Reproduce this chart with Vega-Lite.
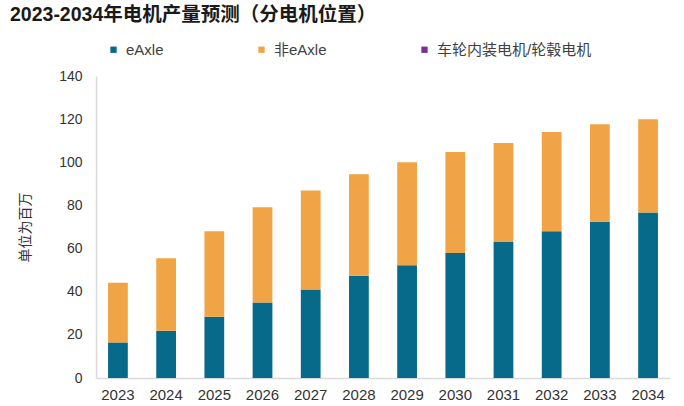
{
  "$schema": "https://vega.github.io/schema/vega-lite/v6.json",
  "width": 574,
  "height": 302,
  "autosize": {"type": "none"},
  "padding": {"left": 96, "top": 76, "right": 14, "bottom": 28},
  "background": "white",
  "config": {
    "view": {"stroke": null},
    "font": "Liberation Sans, Noto Sans CJK SC, sans-serif"
  },
  "title": {
    "text": "2023-2034年电机产量预测（分电机位置）",
    "anchor": "start",
    "frame": "group",
    "dx": -86,
    "offset": 17,
    "fontSize": 19.5,
    "fontWeight": "bold",
    "color": "#1a1a1a",
    "font": "Liberation Sans, Noto Sans CJK SC, sans-serif"
  },
  "data": {
    "values": [
      {"year": "2023", "type": "eAxle", "value": 16.5},
      {"year": "2024", "type": "eAxle", "value": 21.9},
      {"year": "2025", "type": "eAxle", "value": 28.4},
      {"year": "2026", "type": "eAxle", "value": 35.0},
      {"year": "2027", "type": "eAxle", "value": 41.0},
      {"year": "2028", "type": "eAxle", "value": 47.4},
      {"year": "2029", "type": "eAxle", "value": 52.3},
      {"year": "2030", "type": "eAxle", "value": 57.9},
      {"year": "2031", "type": "eAxle", "value": 63.0},
      {"year": "2032", "type": "eAxle", "value": 68.0},
      {"year": "2033", "type": "eAxle", "value": 72.4},
      {"year": "2034", "type": "eAxle", "value": 76.7},
      {"year": "2023", "type": "非eAxle", "value": 27.6},
      {"year": "2024", "type": "非eAxle", "value": 33.6},
      {"year": "2025", "type": "非eAxle", "value": 39.6},
      {"year": "2026", "type": "非eAxle", "value": 44.2},
      {"year": "2027", "type": "非eAxle", "value": 45.9},
      {"year": "2028", "type": "非eAxle", "value": 47.0},
      {"year": "2029", "type": "非eAxle", "value": 47.7},
      {"year": "2030", "type": "非eAxle", "value": 46.9},
      {"year": "2031", "type": "非eAxle", "value": 45.9},
      {"year": "2032", "type": "非eAxle", "value": 46.0},
      {"year": "2033", "type": "非eAxle", "value": 45.2},
      {"year": "2034", "type": "非eAxle", "value": 43.3},
      {"year": "2023", "type": "车轮内装电机/轮毂电机", "value": 0},
      {"year": "2024", "type": "车轮内装电机/轮毂电机", "value": 0},
      {"year": "2025", "type": "车轮内装电机/轮毂电机", "value": 0},
      {"year": "2026", "type": "车轮内装电机/轮毂电机", "value": 0},
      {"year": "2027", "type": "车轮内装电机/轮毂电机", "value": 0},
      {"year": "2028", "type": "车轮内装电机/轮毂电机", "value": 0},
      {"year": "2029", "type": "车轮内装电机/轮毂电机", "value": 0},
      {"year": "2030", "type": "车轮内装电机/轮毂电机", "value": 0},
      {"year": "2031", "type": "车轮内装电机/轮毂电机", "value": 0},
      {"year": "2032", "type": "车轮内装电机/轮毂电机", "value": 0},
      {"year": "2033", "type": "车轮内装电机/轮毂电机", "value": 0},
      {"year": "2034", "type": "车轮内装电机/轮毂电机", "value": 0}
    ]
  },
  "mark": {"type": "bar"},
  "encoding": {
    "x": {
      "field": "year",
      "type": "ordinal",
      "scale": {"paddingInner": 0.59, "paddingOuter": 0.25},
      "axis": {
        "title": null,
        "labelAngle": 0,
        "labelFontSize": 15,
        "labelColor": "#333333",
        "labelPadding": 9,
        "ticks": false,
        "domainColor": "#d9d9d9",
        "domainWidth": 1.5
      }
    },
    "y": {
      "field": "value",
      "type": "quantitative",
      "stack": "zero",
      "scale": {"domain": [0, 140], "nice": false},
      "axis": {
        "title": "单位为百万",
        "titleFontSize": 14,
        "titleFontWeight": "normal",
        "titleColor": "#333333",
        "titlePadding": 26,
        "values": [0, 20, 40, 60, 80, 100, 120, 140],
        "labelFontSize": 14,
        "labelColor": "#333333",
        "labelPadding": 14,
        "ticks": false,
        "grid": false,
        "domainColor": "#d9d9d9",
        "domainWidth": 1.5
      }
    },
    "color": {
      "field": "type",
      "type": "nominal",
      "sort": ["eAxle", "非eAxle", "车轮内装电机/轮毂电机"],
      "scale": {
        "domain": ["eAxle", "非eAxle", "车轮内装电机/轮毂电机"],
        "range": ["#076a8a", "#f0a445", "#7a2c9a"]
      },
      "legend": {
        "title": null,
        "orient": "none",
        "direction": "horizontal",
        "legendX": 10,
        "legendY": -34,
        "padding": 0,
        "symbolType": "square",
        "symbolSize": 40,
        "symbolStrokeWidth": 0,
        "labelFontSize": 15,
        "labelColor": "#404040",
        "labelOffset": 5,
        "columnPadding": 90,
        "labelLimit": 300
      }
    },
    "order": {"field": "type", "sort": "ascending"}
  }
}
